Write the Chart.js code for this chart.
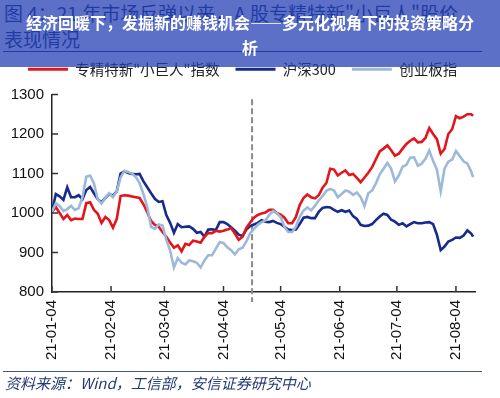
<!DOCTYPE html>
<html lang="zh-CN">
<head>
<meta charset="utf-8">
<title>专精特新"小巨人"指数 vs 沪深300 vs 创业板指</title>
<script src="https://cdn.jsdelivr.net/npm/chart.js@4.4.1/dist/chart.umd.min.js"></script>
<style>
  html, body { margin: 0; padding: 0; background: #fff; }
  body { width: 500px; height: 398px; position: relative; overflow: hidden; font-family: "Noto Sans CJK SC", sans-serif; }
  #origTitle { position: absolute; left: 4px; top: 0; width: 496px; font-size: 19px; line-height: 26px; color: #1a2e80; white-space: nowrap; overflow: hidden; }
  #origRule { position: absolute; left: 3px; top: 51px; width: 479px; border-top: 1.5px solid #1a2e80; }
  #chart { position: absolute; left: 0; top: 0; }
  #banner { position: absolute; left: 0; top: 0; width: 500px; height: 67px; background: rgba(36, 64, 179, 0.75); }
  #bannerText { position: absolute; left: 20px; top: 10px; width: 460px; text-align: center; color: #fff; font-weight: bold; font-size: 16px; line-height: 25px; }
  #srcRule { position: absolute; left: 3px; top: 371px; width: 479px; border-top: 1.5px solid #44577f; }
  #source { position: absolute; left: 5px; top: 374px; font-size: 15px; line-height: 18px; font-style: italic; color: #233b73; }
</style>
</head>
<body>
<div id="origTitle">图 4：21 年市场反弹以来，A 股专精特新"小巨人"股价<br>表现情况</div>
<div id="origRule"></div>
<canvas id="chart" width="500" height="398"></canvas>
<div id="banner"></div>
<div id="bannerText">经济回暖下，发掘新的赚钱机会——多元化视角下的投资策略分析</div>
<div id="srcRule"></div>
<div id="source">资料来源：Wind，工信部，安信证券研究中心</div>

<script>
// 数据
const startDate = '2021-01-04';
const endDate = '2021-08-14';
const markerDate = '2021-04-19';   // 虚线：市场反弹起点

const dates = [
  '2021-01-04','2021-01-06','2021-01-08','2021-01-10','2021-01-12','2021-01-14','2021-01-16','2021-01-18','2021-01-20','2021-01-22',
  '2021-01-24','2021-01-26','2021-01-28','2021-01-30','2021-02-01','2021-02-03','2021-02-05','2021-02-07','2021-02-09','2021-02-11',
  '2021-02-13','2021-02-15','2021-02-17','2021-02-19','2021-02-21','2021-02-23','2021-02-25','2021-02-27','2021-03-01','2021-03-03',
  '2021-03-05','2021-03-07','2021-03-09','2021-03-11','2021-03-13','2021-03-15','2021-03-17','2021-03-19','2021-03-21','2021-03-23',
  '2021-03-25','2021-03-27','2021-03-29','2021-03-31','2021-04-02','2021-04-04','2021-04-06','2021-04-08','2021-04-10','2021-04-12',
  '2021-04-14','2021-04-16','2021-04-18','2021-04-20','2021-04-22','2021-04-24','2021-04-26','2021-04-28','2021-04-30','2021-05-02',
  '2021-05-04','2021-05-06','2021-05-08','2021-05-10','2021-05-12','2021-05-14','2021-05-16','2021-05-18','2021-05-20','2021-05-22',
  '2021-05-24','2021-05-26','2021-05-28','2021-05-30','2021-06-01','2021-06-03','2021-06-05','2021-06-07','2021-06-09','2021-06-11',
  '2021-06-13','2021-06-15','2021-06-17','2021-06-19','2021-06-21','2021-06-23','2021-06-25','2021-06-27','2021-06-29','2021-07-01',
  '2021-07-03','2021-07-05','2021-07-07','2021-07-09','2021-07-11','2021-07-13','2021-07-15','2021-07-17','2021-07-19','2021-07-21',
  '2021-07-23','2021-07-25','2021-07-27','2021-07-29','2021-07-31','2021-08-02','2021-08-04','2021-08-06','2021-08-08','2021-08-10',
  '2021-08-12','2021-08-13'
];

const xiaoJuRen = [
  1003,1015,1000,985,995,982,986,985,985,1025,
  1027,1008,998,975,990,982,963,985,1043,1045,
  1044,1042,1040,1038,1022,1002,980,970,965,952,
  940,925,912,918,903,922,919,930,928,925,
  940,949,949,955,953,955,958,962,948,932,
  940,962,976,988,995,999,1001,1008,1008,1000,
  996,988,974,974,990,1020,1038,1047,1040,1037,
  1045,1064,1076,1112,1110,1095,1102,1108,1096,1099,
  1089,1078,1090,1102,1116,1136,1156,1163,1171,1159,
  1145,1150,1163,1175,1183,1189,1179,1180,1190,1215,
  1200,1187,1150,1162,1200,1212,1245,1240,1244,1250,
  1250,1246
];

const hs300 = [
  1003,1048,1042,1033,1065,1040,1040,1045,1035,1058,
  1066,1050,1035,1027,1038,1048,1044,1055,1100,1106,
  1101,1099,1098,1099,1080,1065,1050,1036,1028,1030,
  995,975,950,972,964,965,966,960,950,952,
  940,958,959,957,977,977,972,964,955,945,
  942,958,967,971,975,982,978,977,980,975,
  972,965,958,957,958,972,988,990,987,987,
  1003,1013,1015,1014,1008,1003,1007,1003,1006,992,
  985,970,967,968,972,982,991,998,995,983,
  978,970,974,966,972,977,974,974,976,977,
  972,945,906,915,928,932,938,937,943,956,
  948,940
];

const chiNext = [
  1003,1025,1018,1005,1010,1018,1008,1012,1040,1092,
  1095,1075,1035,1024,1038,1050,1040,1055,1090,1107,
  1104,1100,1091,1075,1048,1015,965,960,971,968,
  932,905,862,886,874,870,880,878,874,862,
  880,893,893,910,926,924,913,906,895,908,
  912,928,948,960,970,977,981,995,1005,999,
  990,965,952,952,965,990,1006,1014,1007,1018,
  1032,1043,1056,1061,1057,1040,1048,1057,1054,1046,
  1052,1040,1018,1050,1057,1075,1098,1112,1127,1112,
  1080,1095,1117,1122,1140,1141,1120,1125,1137,1158,
  1132,1110,1055,1112,1130,1135,1157,1144,1131,1125,
  1105,1091
];

const xTickDates = ['2021-01-04','2021-02-04','2021-03-04','2021-04-04','2021-05-04','2021-06-04','2021-07-04','2021-08-04'];
const xTickLabels = ['21-01-04','21-02-04','21-03-04','21-04-04','21-05-04','21-06-04','21-07-04','21-08-04'];
const yTickValues = [800, 850, 900, 950, 1000, 1050, 1100, 1150, 1200, 1250, 1300];

// 日期 -> 距起始日天数
const dayOf = s => (Date.parse(s) - Date.parse(startDate)) / 864e5;
const toPoints = arr => arr.map((v, i) => ({ x: dayOf(dates[i]), y: v }));

// 图例和坐标区之间留一点空
const legendGap = {
  id: 'legendGap',
  beforeInit(chart) {
    const fit = chart.legend.fit;
    chart.legend.fit = function () {
      fit.call(this);
      this.height += 8;
    };
  }
};

// 虚线 + 向内的刻度线
const axisDecor = {
  id: 'axisDecor',
  beforeDatasetsDraw(chart) {
    const { ctx, chartArea, scales: { x, y } } = chart;
    const mx = x.getPixelForValue(dayOf(markerDate));
    ctx.save();
    ctx.strokeStyle = '#8a8a8a';
    ctx.lineWidth = 2;
    ctx.setLineDash([6, 3]);
    ctx.beginPath();
    ctx.moveTo(mx, y.getPixelForValue(1288));
    ctx.lineTo(mx, chartArea.bottom + 10);
    ctx.stroke();
    ctx.restore();
  },
  afterDraw(chart) {
    const { ctx, chartArea, scales: { x, y } } = chart;
    ctx.save();
    ctx.strokeStyle = '#333';
    ctx.lineWidth = 1.5;
    ctx.beginPath();
    y.ticks.forEach(t => {
      const py = y.getPixelForValue(t.value);
      ctx.moveTo(chartArea.left, py);
      ctx.lineTo(chartArea.left + 6, py);
    });
    x.ticks.forEach(t => {
      const px = x.getPixelForValue(t.value);
      ctx.moveTo(px, chartArea.bottom);
      ctx.lineTo(px, chartArea.bottom - 6);
    });
    ctx.stroke();
    ctx.restore();
  }
};

const tickFont = { family: '"Liberation Sans", Arial, sans-serif', size: 15 };

new Chart(document.getElementById('chart'), {
  type: 'line',
  data: {
    datasets: [
      { label: '专精特新"小巨人"指数', data: toPoints(xiaoJuRen), borderColor: '#e3151b', backgroundColor: '#e3151b', order: 2 },
      { label: '沪深300', data: toPoints(hs300), borderColor: '#172b8c', backgroundColor: '#172b8c', order: 3 },
      { label: '创业板指', data: toPoints(chiNext), borderColor: '#9db9d9', backgroundColor: '#9db9d9', order: 1 }
    ]
  },
  options: {
    responsive: false,
    animation: false,
    events: [],
    elements: {
      line: { borderWidth: 2.6, tension: 0 },
      point: { radius: 0 }
    },
    layout: { padding: { top: 46, left: 12, right: 25, bottom: 31 } },
    plugins: {
      tooltip: { enabled: false },
      legend: {
        position: 'top',
        align: 'start',
        labels: {
          boxWidth: 40,
          boxHeight: 3,
          padding: 16,
          color: '#222',
          font: { family: '"Noto Sans CJK SC", sans-serif', size: 14.5 },
          sort: (a, b) => a.datasetIndex - b.datasetIndex,
          generateLabels: chart => Chart.defaults.plugins.legend.labels.generateLabels(chart)
            .map(item => ({ ...item, lineWidth: 0 }))
        }
      }
    },
    scales: {
      x: {
        type: 'linear',
        min: 0,
        max: dayOf(endDate),
        afterBuildTicks: s => { s.ticks = xTickDates.map(d => ({ value: dayOf(d) })); },
        afterFit: s => { s.height = 75; },
        grid: { display: false, drawTicks: false },
        border: { display: true, color: '#222', width: 1.5 },
        ticks: {
          autoSkip: false,
          minRotation: 90,
          maxRotation: 90,
          padding: 8,
          color: '#111',
          font: tickFont,
          callback: (v, i) => xTickLabels[i]
        }
      },
      y: {
        min: 800,
        max: 1300,
        afterBuildTicks: s => { s.ticks = yTickValues.map(v => ({ value: v })); },
        afterFit: s => { s.width = 40; },
        grid: { display: false, drawTicks: false },
        border: { display: true, color: '#222', width: 1.5 },
        ticks: { padding: 8, color: '#111', font: tickFont, callback: v => String(v) }
      }
    }
  },
  plugins: [legendGap, axisDecor]
});
</script>
</body>
</html>
